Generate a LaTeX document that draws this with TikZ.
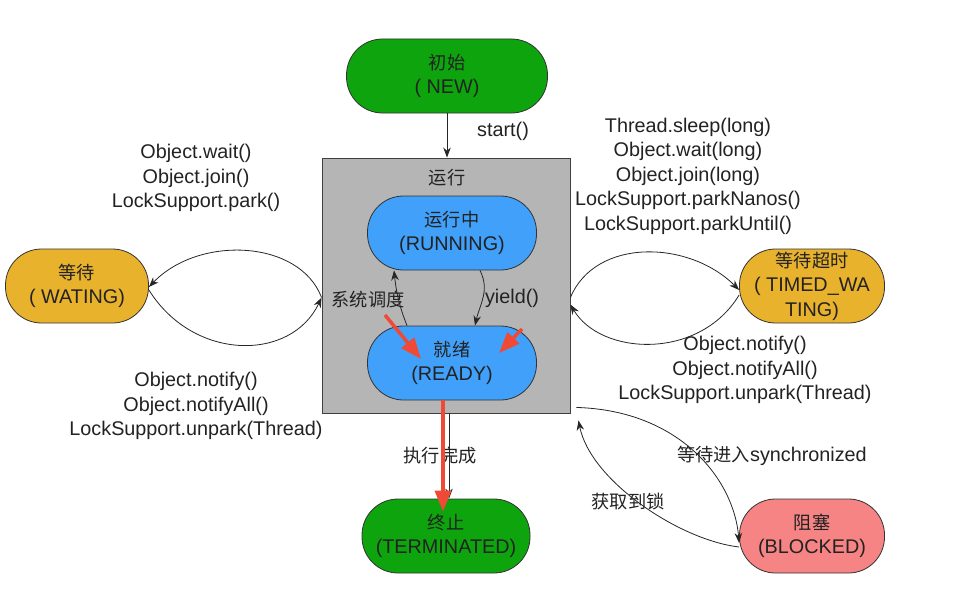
\documentclass[tikz,border=0pt]{standalone}
\usepackage{fontspec}
\setmainfont{Liberation Sans}
\newfontfamily\zh{Noto Sans CJK SC}[Scale=0.92]
\usetikzlibrary{calc}
\usetikzlibrary{arrows.meta}
\definecolor{grn}{RGB}{14,164,14}
\definecolor{gold}{RGB}{232,178,44}
\definecolor{sky}{RGB}{64,160,250}
\definecolor{pink}{RGB}{246,132,132}
\definecolor{boxgray}{RGB}{181,181,181}
\definecolor{hotred}{RGB}{240,74,54}
\definecolor{ink}{RGB}{34,34,34}

\begin{document}
\begin{tikzpicture}[x=1pt,y=-1pt,inner sep=0pt,
  state/.style={draw=black!80,line width=0.8pt,rounded corners=36pt,minimum height=74pt,align=center,text=ink,font=\fs},
  lbl/.style={align=center,text=ink,font=\fs},
  arr/.style={-{Stealth[length=10pt,width=7.5pt]},black!85,line width=0.8pt},
  hot/.style={-{Triangle[length=21pt,width=16pt]},hotred,line width=3.5pt}]
\def\fs{\fontsize{19.8}{24.5}\selectfont}
\useasboundingbox (0,0) rectangle (968,602);

\node[draw=black!75,fill=boxgray,line width=0.9pt,minimum width=248pt,minimum height=255pt] (run) at (446,285.5) {};
\node[lbl] (runlbl) at (447,178) {\zh 运行};

\node[state,fill=grn,minimum width=201pt] (new) at (447,76) {{\zh 初始}\\( NEW)};
\node[state,fill=sky,minimum width=169pt] (running) at (452,233) {{\zh 运行中}\\(RUNNING)};
\node[state,fill=sky,minimum width=169pt] (ready) at (452,363) {{\zh 就绪}\\(READY)};
\node[state,fill=gold,minimum width=143pt] (wait) at (77,286) {{\zh 等待}\\( WATING)};
\node[state,fill=gold,minimum width=145pt] (twait) at (812,286) {{\zh 等待超时}\\( TIMED\_WA\\TING)};
\node[state,fill=grn,minimum width=168pt] (term) at (446,536) {{\zh 终止}\\(TERMINATED)};
\node[state,fill=pink,minimum width=145pt] (block) at (812,536) {{\zh 阻塞}\\(BLOCKED)};

\node[lbl] (startlbl) at (503,131) {start()};
\node[lbl] (inlbl) at (196,178) {Object.wait()\\Object.join()\\LockSupport.park()};
\node[lbl] (outlbl) at (196,406) {Object.notify()\\Object.notifyAll()\\LockSupport.unpark(Thread)};
\node[lbl] (tinlbl) at (688,176) {Thread.sleep(long)\\Object.wait(long)\\Object.join(long)\\LockSupport.parkNanos()\\LockSupport.parkUntil()};
\node[lbl] (toutlbl) at (745,370) {Object.notify()\\Object.notifyAll()\\LockSupport.unpark(Thread)};
\node[lbl] (schedlbl) at (368,300) {\zh 系统调度};
\node[lbl] (yieldlbl) at (512,298) {yield()};
\node[lbl] (donelbl) at (440,456) {\zh 执行完成};
\node[lbl] (synclbl) at (772,456) {{\zh 等待进入}synchronized};
\node[lbl] (locklbl) at (628,502) {\zh 获取到锁};

\draw[arr] (new.south) -- (new.south |- run.north);
\draw[arr] ([yshift=-12pt]run.west) .. controls +(-22,-58) and +(50,-52) .. ([yshift=-1pt]wait.east);
\draw[arr] ([yshift=-4pt]wait.east) .. controls +(45,72) and +(-30,64) .. ([yshift=-12pt]run.west);
\draw[arr] ([yshift=-12pt]run.east) .. controls +(25,-60) and +(-50,-50) .. ([yshift=-4pt]twait.west);
\draw[arr] ([yshift=-9pt]twait.west) .. controls +(-40,66) and +(30,51) .. ([yshift=-19pt]run.east);
\draw[arr] ([xshift=6pt,yshift=6pt]run.south east) .. controls +(104,3) and +(-5,-63) .. ([yshift=-7pt]block.west);
\draw[arr] ([yshift=-11pt]block.west) .. controls +(-60,-7) and +(12,60) .. ([xshift=8pt,yshift=-7pt]run.south east);
\draw[arr] ([xshift=28pt]running.south) .. controls +(10,20) and +(5,-22) .. ([xshift=23pt]ready.north);
\draw[arr] ([xshift=-45pt]ready.north) .. controls +(-8,-20) and +(2,20) .. ([xshift=-58pt]running.south);
\draw[arr] ([xshift=3pt]run.south) -- ([xshift=3pt]term.north);

\coordinate (p1) at (385,315);
\coordinate (p2) at (522,329);
\draw[hot] (p1) -- ([xshift=-31pt,yshift=4pt]ready.center);
\draw[hot] (p2) -- ([xshift=47pt,yshift=10pt]ready.center);
\draw[hot] ([xshift=-9pt]ready.south) -- ([xshift=-3pt,yshift=-13pt]term.north);
\end{tikzpicture}
\end{document}
